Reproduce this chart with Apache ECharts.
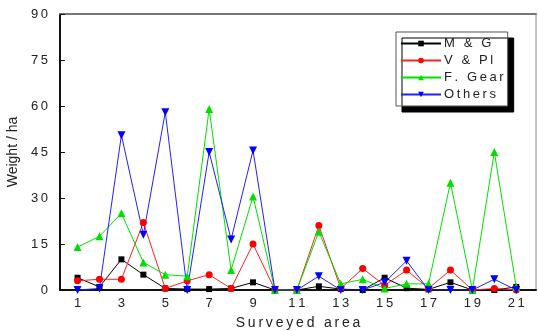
<!DOCTYPE html>
<html>
<head>
<meta charset="utf-8">
<script src="https://cdn.jsdelivr.net/npm/echarts@6/dist/echarts.min.js"></script>
<style>
  html, body { margin: 0; padding: 0; background: #fff; }
  #chart { width: 538px; height: 331px; }
</style>
</head>
<body>
<div id="chart"></div>
<script>
// surveyed areas 1..21
var areas = [1, 2, 3, 4, 5, 6, 7, 8, 9, 10, 11, 12, 13, 14, 15, 16, 17, 18, 19, 20, 21];
var mgData     = [4, 1, 10, 5, 0.5, 0.3, 0.3, 0.5, 2.5, 0, 0, 1.2, 0.3, 0, 4, 0.6, 0.2, 2.5, 0, 0, 1];
var vplData    = [3, 3.5, 3.5, 22, 0.5, 3, 5, 0.5, 15, 0, 0, 21, 0.5, 7, 1.5, 6.5, 0.5, 6.5, 0, 0.5, 0];
var gearData   = [14, 17.5, 25, 9, 5, 4.5, 59, 6.5, 30.5, 0, 0, 19, 2, 3.5, 0.5, 2, 2, 35, 0, 45, 1];
var othersData = [0, 0.5, 50.5, 18, 58, 0, 45, 16.5, 45.5, 0, 0, 4.5, 0, 0, 2.5, 9.5, 0, 0, 0, 3.5, 0];
var xTicks = [1, 3, 5, 7, 9, 11, 13, 15, 17, 19, 21];
var seriesNames = ['M & G', 'V & Pl', 'F. Gear', 'Others'];

function pairs(vals) {
    var out = [];
    for (var i = 0; i < areas.length; i++) {
        out.push([areas[i], vals[i]]);
    }
    return out;
}
// spread characters a bit like the original typeface
function spaced(s) {
    return String(s).split('').join('\u2009');
}

var chart = echarts.init(document.getElementById('chart'));
var font = 'Liberation Sans';

var option = {
    animation: false,
    backgroundColor: '#fff',
    grid: {
        left: 60, top: 14, right: 2, bottom: 41,
        outerBoundsMode: 'none',
        containLabel: false,
        show: true,
        borderColor: '#888',
        borderWidth: 1
    },
    legend: {
        orient: 'vertical',
        left: 396,
        top: 32,
        padding: [4, 4, 4, 4],
        itemGap: 2,
        itemWidth: 40,
        itemHeight: 7,
        backgroundColor: '#fff',
        borderColor: '#555',
        borderWidth: 1,
        shadowColor: '#000',
        shadowBlur: 0,
        shadowOffsetX: 6,
        shadowOffsetY: 6,
        textStyle: { fontFamily: font, fontSize: 13, lineHeight: 15, color: '#222', padding: [0, 0, 0, -2] },
        formatter: function (name) { return spaced(name); },
        data: seriesNames
    },
    xAxis: [{
        type: 'value',
        min: 0.2,
        max: 21.9,
        name: spaced('Surveyed area'),
        nameLocation: 'middle',
        nameGap: 26,
        nameTextStyle: { fontFamily: font, fontSize: 14, color: '#222' },
        axisLine: { show: true, lineStyle: { color: '#111', width: 2 } },
        axisTick: { show: false },
        splitLine: { show: false },
        axisLabel: {
            customValues: xTicks,
            margin: 7,
            fontFamily: font,
            fontSize: 13,
            color: '#222',
            formatter: function (v) { return spaced(v); }
        }
    }, {
        type: 'value',
        position: 'top',
        min: 0.2,
        max: 21.9,
        axisLine: { show: true, lineStyle: { color: '#777', width: 2 } },
        axisTick: { show: false },
        axisLabel: { show: false },
        splitLine: { show: false }
    }],
    yAxis: {
        type: 'value',
        min: 0,
        max: 90,
        interval: 15,
        name: 'Weight / ha',
        nameLocation: 'middle',
        nameGap: 32,
        nameTextStyle: { fontFamily: font, fontSize: 14, color: '#222' },
        axisLine: { show: true, lineStyle: { color: '#111', width: 2 } },
        axisTick: { show: true, inside: true, length: 5, lineStyle: { color: '#111' } },
        splitLine: { show: false },
        axisLabel: {
            margin: 12,
            fontFamily: font,
            fontSize: 13,
            color: '#222',
            formatter: function (v) { return spaced(v); }
        }
    },
    series: [
        {
            name: seriesNames[0], type: 'line', data: pairs(mgData),
            symbol: 'rect', symbolSize: 6,
            lineStyle: { color: '#000', width: 1 },
            itemStyle: { color: '#000' }
        },
        {
            name: seriesNames[1], type: 'line', data: pairs(vplData),
            symbol: 'circle', symbolSize: 7,
            lineStyle: { color: '#ff2020', width: 1 },
            itemStyle: { color: '#ff0000' }
        },
        {
            name: seriesNames[2], type: 'line', data: pairs(gearData),
            symbol: 'triangle', symbolSize: 8,
            lineStyle: { color: '#00e000', width: 1 },
            itemStyle: { color: '#00e000' }
        },
        {
            name: seriesNames[3], type: 'line', data: pairs(othersData),
            symbol: 'triangle', symbolSize: 8, symbolRotate: 180,
            lineStyle: { color: '#2020ff', width: 1 },
            itemStyle: { color: '#0000ff' }
        }
    ]
};
chart.setOption(option);
</script>
</body>
</html>
